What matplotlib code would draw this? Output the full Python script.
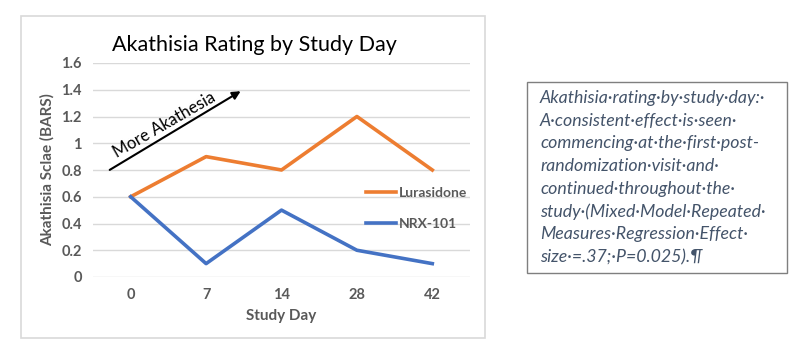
import matplotlib.pyplot as plt
from matplotlib.patches import Rectangle

plt.rcParams['font.family'] = ['Lato', 'DejaVu Sans']

days = ['0', '7', '14', '28', '42']
lurasidone = [0.6, 0.9, 0.8, 1.2, 0.8]
nrx101 = [0.6, 0.1, 0.5, 0.2, 0.1]
yticks = [0, 0.2, 0.4, 0.6, 0.8, 1, 1.2, 1.4, 1.6]
ytick_labels = ['0', '0.2', '0.4', '0.6', '0.8', '1', '1.2', '1.4', '1.6']

note_lines = [
    'Akathisia·rating·by·study·day:·',
    'A·consistent·effect·is·seen·',
    'commencing·at·the·first·post-',
    'randomization·visit·and·',
    'continued·throughout·the·',
    'study·(Mixed·Model·Repeated·',
    'Measures·Regression·Effect·',
    'size·=.37;·P=0.025).¶',
]

W, H = 800, 356
fig = plt.figure(figsize=(8, 3.56), dpi=100)

# chart frame
fig.patches.append(Rectangle((21 / W, 1 - 338 / H), 464 / W, 322 / H,
                             transform=fig.transFigure, fill=False,
                             edgecolor='#d9d9d9', linewidth=1.2))

ax = fig.add_axes([93 / W, 1 - 277 / H, 377 / W, 214 / H])
x = range(len(days))
ax.plot(x, lurasidone, color='#ED7D31', linewidth=2.6, label='Lurasidone')
ax.plot(x, nrx101, color='#4472C4', linewidth=2.6, label='NRX-101')
ax.set_xlim(-0.5, len(days) - 0.5)
ax.set_ylim(0, 1.6)
ax.set_yticks(yticks)
ax.set_yticklabels(ytick_labels)
ax.set_xticks(list(x))
ax.set_xticklabels(days)
ax.grid(axis='y', color='#d9d9d9', linewidth=1)
ax.set_axisbelow(True)
for s in ax.spines.values():
    s.set_visible(False)
ax.tick_params(length=0, labelsize=10.5, labelcolor='#595959', pad=8)
for lab in ax.get_xticklabels() + ax.get_yticklabels():
    lab.set_fontweight('bold')
ax.set_xlabel('Study Day', fontsize=11, fontweight='bold', color='#595959', labelpad=5)
ax.set_ylabel('Akathisia Sclae (BARS)', fontsize=11, fontweight='bold', color='#595959', labelpad=5)
# title is centred on the chart frame, not the plot area
fig.text(254 / W, 1 - 45 / H, 'Akathisia Rating by Study Day', fontsize=15.5,
         color='black', ha='center', va='center')

leg = ax.legend(loc='upper left', bbox_to_anchor=(0.69, 0.48), frameon=False,
                handlelength=2.2, handletextpad=0.2, labelspacing=1.4,
                prop={'size': 10, 'weight': 'bold'})
for t in leg.get_texts():
    t.set_color('#595959')

# arrow
ax.annotate('', xy=(1.49, 1.40), xytext=(-0.31, 0.79),
            arrowprops=dict(arrowstyle='-|>', color='black', lw=1.5, mutation_scale=12))
ax.text(0.45, 1.14, 'More Akathesia', rotation=30, fontsize=12,
        ha='center', va='center', color='black')

# note box
fig.patches.append(Rectangle((527 / W, 1 - 273 / H), 260 / W, 191 / H,
                             transform=fig.transFigure, fill=False,
                             edgecolor='#7f7f7f', linewidth=1))
for i, line in enumerate(note_lines):
    fig.text(540 / W, 1 - (98 + i * 22.7) / H, line, fontsize=12.8,
             style='italic', color='#44546A', va='center', ha='left')

fig.savefig('out.png', dpi=100)
